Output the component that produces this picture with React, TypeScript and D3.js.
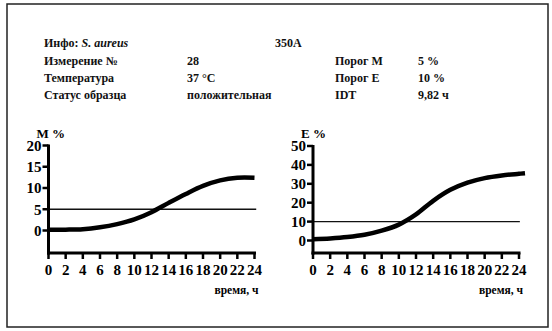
import React from "react";
import * as d3 from "d3";

const hours = [0, 2, 4, 6, 8, 10, 12, 14, 16, 18, 20, 22, 24];
const mHours = [0, 2, 4, 6, 8, 10, 12, 14, 16, 18, 20, 22, 24];
const mValues = [0.2, 0.2, 0.3, 0.75, 1.5, 2.6, 4.3, 6.5, 8.6, 10.5, 11.8, 12.4, 12.4];
const eHours = [0, 2, 4, 6, 8, 10, 12, 14, 16, 18, 20, 22, 24, 24.7];
const eValues = [0.7, 1.1, 1.8, 3.0, 5.2, 8.4, 13.8, 21.0, 26.8, 30.6, 33.0, 34.4, 35.3, 35.6];
const mTicks = [0, 5, 10, 15, 20];
const eTicks = [0, 10, 20, 30, 40, 50];
const mThreshold = 5;
const eThreshold = 10;

const infoRows = [
  ["Измерение №", "28", "Порог M", "5 %"],
  ["Температура", "37 °C", "Порог E", "10 %"],
  ["Статус образца", "положительная", "IDT", "9,82 ч"],
];

const font = "'Liberation Serif', 'Times New Roman', 'DejaVu Serif', serif";
const tstyle: React.CSSProperties = { fontFamily: font, fontWeight: 700 };

type PanelProps = {
  x0: number;
  title: string;
  ticks: number[];
  yTop: number;
  yZero: number;
  xs: number[];
  ys: number[];
  threshold: number;
  threshEnd: number;
};

function Panel({ x0, title, ticks, yTop, yZero, xs, ys, threshold, threshEnd }: PanelProps) {
  const xScale = d3.scaleLinear().domain([0, 24]).range([x0, x0 + 206]);
  const maxTick = ticks[ticks.length - 1];
  const y = d3.scaleLinear().domain([0, maxTick]).range([yZero, yTop]);
  const axisY = 253;
  const line = d3
    .line<number>()
    .x((_, i) => xScale(xs[i]))
    .y((d) => y(d))
    .curve(d3.curveCatmullRom.alpha(0.5));
  return (
    <g>
      <text x={x0 - 12} y={y(maxTick) - 8} style={{ ...tstyle, fontSize: 13 }}>
        {title}
      </text>
      <line x1={x0} x2={xScale(threshEnd)} y1={y(threshold)} y2={y(threshold)} stroke="#111" strokeWidth={1.3} />
      <path d={line(ys) || ""} fill="none" stroke="#000" strokeWidth={4.5} strokeLinecap="butt" />
      <line x1={x0} x2={x0} y1={y(maxTick) - 1} y2={axisY + 1.5} stroke="#000" strokeWidth={3} />
      {ticks.map((t) => (
        <g key={t}>
          <line x1={x0 - 6} x2={x0} y1={y(t)} y2={y(t)} stroke="#000" strokeWidth={2.5} />
          <text x={x0 - 7} y={y(t)} dy="0.35em" textAnchor="end" style={{ ...tstyle, fontSize: 15 }}>
            {t}
          </text>
        </g>
      ))}
      <line x1={x0 - 1.5} x2={xScale(24) + 1.5} y1={axisY} y2={axisY} stroke="#000" strokeWidth={3} />
      {hours.map((h) => (
        <g key={h}>
          <line x1={xScale(h)} x2={xScale(h)} y1={axisY} y2={axisY + 6} stroke="#000" strokeWidth={2.5} />
          <text x={xScale(h)} y={270} dy="0.35em" textAnchor="middle" style={{ ...tstyle, fontSize: 15 }}>
            {h}
          </text>
        </g>
      ))}
      <text x={xScale(24) + 4} y={290} dy="0.35em" textAnchor="end" style={{ ...tstyle, fontSize: 11.5 }}>
        время, ч
      </text>
    </g>
  );
}

export default function App() {
  const rowY = [43, 61, 78, 95];
  const hs: React.CSSProperties = { ...tstyle, fontSize: 12 };
  return (
    <svg width={552} height={331} style={{ position: "absolute", left: 0, top: 0, background: "#fff" }}>
      <rect x={0} y={0} width={552} height={331} fill="#fff" />
      <rect x={7} y={4} width={541} height={323} fill="none" stroke="#222" strokeWidth={1.5} />
      <g fill="#111">
        <text x={44} y={rowY[0]} dy="0.35em" style={hs}>
          Инфо: <tspan fontStyle="italic">S. aureus</tspan>
        </text>
        <text x={275} y={rowY[0]} dy="0.35em" style={hs}>350A</text>
        {infoRows.map((r, i) => (
          <g key={i}>
            <text x={44} y={rowY[i + 1]} dy="0.35em" style={hs}>{r[0]}</text>
            <text x={187} y={rowY[i + 1]} dy="0.35em" style={hs}>{r[1]}</text>
            <text x={335} y={rowY[i + 1]} dy="0.35em" style={hs}>{r[2]}</text>
            <text x={418} y={rowY[i + 1]} dy="0.35em" style={hs}>{r[3]}</text>
          </g>
        ))}
      </g>
      <Panel x0={48.5} title="M %" ticks={mTicks} yTop={145.5} yZero={230.5} xs={mHours} ys={mValues} threshold={mThreshold} threshEnd={24.2} />
      <Panel x0={313} title="E %" ticks={eTicks} yTop={146} yZero={240.5} xs={eHours} ys={eValues} threshold={eThreshold} threshEnd={24.1} />
    </svg>
  );
}
